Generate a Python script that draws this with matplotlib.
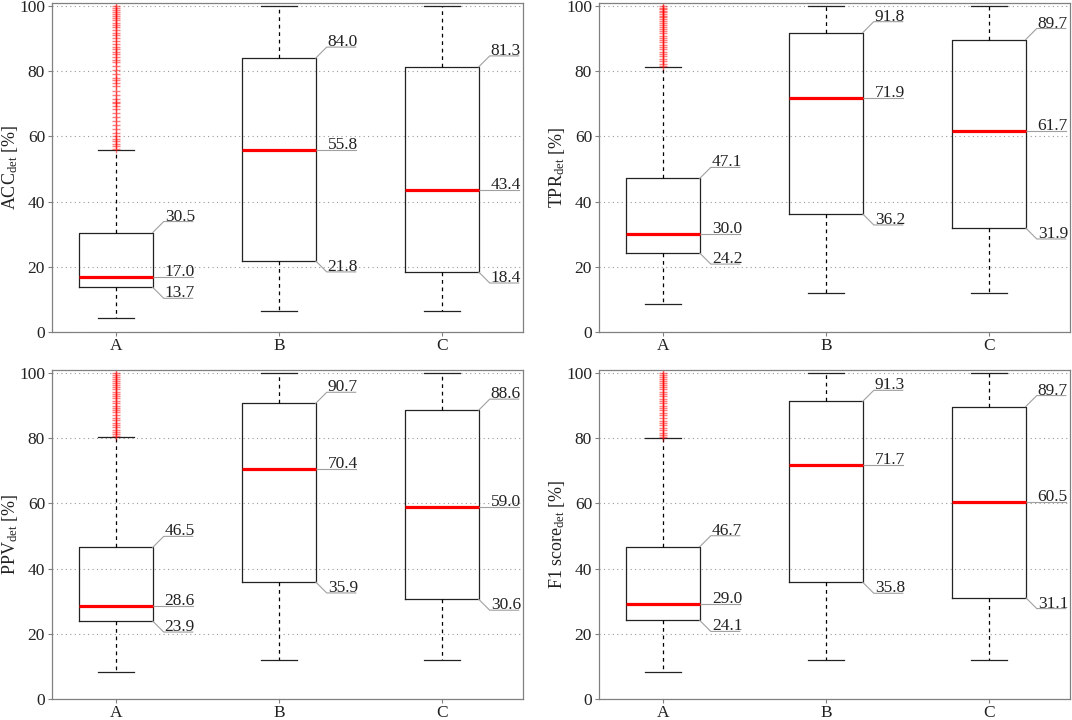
import matplotlib
matplotlib.use("Agg")
import matplotlib.pyplot as plt
from matplotlib.transforms import offset_copy

plt.rcParams["font.family"] = ["Liberation Serif", "DejaVu Serif"]
plt.rcParams["mathtext.fontset"] = "custom"
plt.rcParams["mathtext.rm"] = "Liberation Serif"
plt.rcParams["mathtext.it"] = "Liberation Serif:italic"

# Categories and box statistics (q1, median, q3, whisker low, whisker high) per metric.
groups = ["A", "B", "C"]
ylabels = ["ACC$_{\\mathrm{det}}$ [%]", "TPR$_{\\mathrm{det}}$ [%]",
           "PPV$_{\\mathrm{det}}$ [%]", "F1 score$_{\\mathrm{det}}$ [%]"]

acc_q1 = [13.7, 21.8, 18.4]
acc_med = [17.0, 55.8, 43.4]
acc_q3 = [30.5, 84.0, 81.3]
acc_lo = [4.2, 6.3, 6.3]
acc_hi = [55.7, 100.0, 100.0]

tpr_q1 = [24.2, 36.2, 31.9]
tpr_med = [30.0, 71.9, 61.7]
tpr_q3 = [47.1, 91.8, 89.7]
tpr_lo = [8.5, 12.1, 12.1]
tpr_hi = [81.4, 100.0, 100.0]

ppv_q1 = [23.9, 35.9, 30.6]
ppv_med = [28.6, 70.4, 59.0]
ppv_q3 = [46.5, 90.7, 88.6]
ppv_lo = [8.2, 12.0, 12.0]
ppv_hi = [80.3, 100.0, 100.0]

f1_q1 = [24.1, 35.8, 31.1]
f1_med = [29.0, 71.7, 60.5]
f1_q3 = [46.7, 91.3, 89.7]
f1_lo = [8.2, 12.0, 12.0]
f1_hi = [80.1, 100.0, 100.0]

# Outliers of group A (other groups have none)
acc_out_a = [56.2, 57.0, 57.8, 58.5, 59.3, 60.1, 61.0, 62.2, 63.5, 64.8, 66.0, 67.3,
             68.5, 69.4, 70.2, 70.6, 71.5, 72.8, 74.0, 75.3, 76.5, 77.2, 78.0, 79.1,
             80.4, 81.6, 82.7, 83.5, 84.3, 85.2, 86.0, 86.8, 87.5, 88.4, 89.2, 90.1,
             91.0, 91.8, 92.6, 93.4, 94.1, 94.9, 95.6, 96.3, 97.0, 97.6, 98.2, 98.8,
             99.4, 100.0]
tpr_out_a = [81.6, 82.3, 83.0, 83.8, 84.5, 85.2, 85.9, 86.7, 87.4, 88.1, 88.8, 89.5,
             90.2, 90.9, 91.6, 92.3, 93.0, 93.6, 94.2, 94.8, 95.4, 96.0, 96.5, 97.0,
             97.5, 98.0, 98.5, 99.0, 99.5, 100.0]
ppv_out_a = [80.6, 81.2, 81.9, 82.6, 83.3, 84.1, 84.8, 85.6, 86.3, 87.1, 87.9, 88.6,
             89.3, 90.0, 90.8, 91.5, 92.2, 93.0, 93.7, 94.3, 95.0, 95.7, 96.4, 97.0,
             97.6, 98.2, 98.8, 99.4, 100.0]
f1_out_a = [80.4, 81.0, 81.7, 82.4, 83.1, 83.9, 84.6, 85.4, 86.2, 87.0, 87.8, 88.5,
            89.2, 90.0, 90.7, 91.4, 92.1, 92.9, 93.6, 94.3, 95.0, 95.7, 96.4, 97.0,
            97.6, 98.2, 98.8, 99.4, 100.0]

metrics = [
    (acc_q1, acc_med, acc_q3, acc_lo, acc_hi, acc_out_a),
    (tpr_q1, tpr_med, tpr_q3, tpr_lo, tpr_hi, tpr_out_a),
    (ppv_q1, ppv_med, ppv_q3, ppv_lo, ppv_hi, ppv_out_a),
    (f1_q1, f1_med, f1_q3, f1_lo, f1_hi, f1_out_a),
]

# axes rectangles in figure fractions
rects = [
    [0.0485, 0.5389, 0.4394, 0.4574],
    [0.5588, 0.5389, 0.4394, 0.4574],
    [0.0485, 0.0292, 0.4394, 0.4573],
    [0.5588, 0.0292, 0.4394, 0.4573],
]

positions = [1, 2, 3]
box_w = 0.45
frame_col = "#808080"
lead_col = "#a0a0a0"

fig = plt.figure(figsize=(10.72, 7.2), dpi=100)

for rect, ylab, (q1, med, q3, lo, hi, out_a) in zip(rects, ylabels, metrics):
    ax = fig.add_axes(rect)
    stats = []
    for i, g in enumerate(groups):
        stats.append(dict(label=g, q1=q1[i], med=med[i], q3=q3[i],
                          whislo=lo[i], whishi=hi[i],
                          fliers=out_a if i == 0 else []))
    ax.bxp(stats, positions=positions, widths=box_w, showfliers=True,
           boxprops=dict(color="#222222", lw=0.9),
           medianprops=dict(color="#ff0000", lw=2.3),
           whiskerprops=dict(color="black", lw=0.9, ls=(0, (3, 3))),
           capprops=dict(color="#222222", lw=0.9),
           flierprops=dict(marker="+", markeredgecolor="#ff0000", markersize=6,
                           markeredgewidth=1.0, alpha=0.5, linestyle="none"),
           capwidths=0.22)

    ax.set_xlim(0.607, 3.497)
    ax.set_ylim(0, 101)
    ax.set_yticks([0, 20, 40, 60, 80, 100])
    ax.set_xticks(positions)
    ax.set_xticklabels(groups)
    ax.yaxis.grid(True, ls=(0, (1, 3)), color="#999999", lw=0.8)
    ax.set_axisbelow(True)
    for sp in ax.spines.values():
        sp.set_color(frame_col)
        sp.set_linewidth(0.9)
    ax.tick_params(labelsize=12.5, colors=frame_col, labelcolor="#222222",
                   length=3, direction="out", pad=2)
    ax.tick_params(axis="x", pad=1)
    ax.set_ylabel(ylab, fontsize=13, color="#222222")
    ax.yaxis.set_label_coords(-0.068, 0.5)

    # value labels with leader lines
    for i, p in enumerate(positions):
        xr = p + box_w / 2
        for val, kind in ((q3[i], "top"), (med[i], "mid"), (q1[i], "bot")):
            if kind == "top":
                dx, dy = [0, 11, 40], [0, 11, 11]
            elif kind == "mid":
                dx, dy = [0, 40], [0, 0]
            else:
                dx, dy = [0, 11, 40], [0, -11, -11]
            trs = [offset_copy(ax.transData, fig=fig, x=x, y=y, units="dots")
                   for x, y in zip(dx, dy)]
            pts = [t.transform((xr, val)) for t in trs]
            xs = [pt[0] for pt in pts]
            ys = [pt[1] for pt in pts]
            ax.plot(xs, ys, transform=None, color=lead_col, lw=0.8,
                    clip_on=False)
            ttr = offset_copy(ax.transData, fig=fig, x=12, y=dy[-1] + 1,
                              units="dots")
            ax.text(xr, val, f"{val:.1f}", transform=ttr, fontsize=12.5,
                    ha="left", va="baseline", color="#222222")

fig.savefig("out.png", dpi=100)
